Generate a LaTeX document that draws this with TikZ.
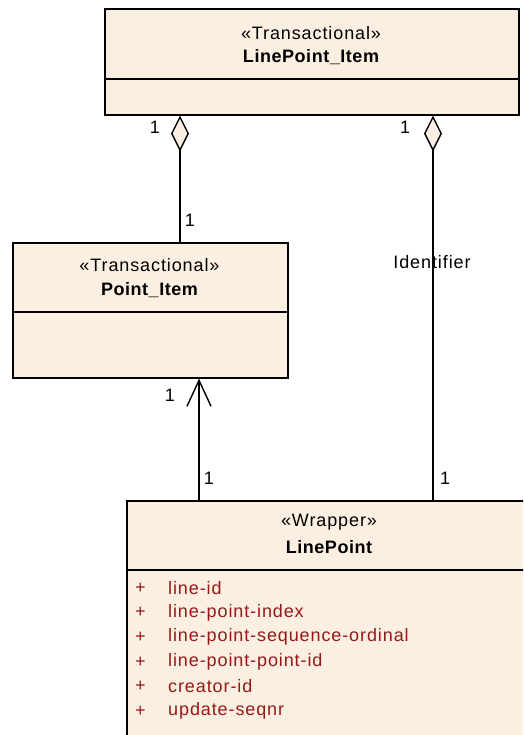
\documentclass[tikz,border=0pt]{standalone}
\usepackage{fontspec}
\setmainfont{Liberation Sans}[LetterSpace=5]
\usetikzlibrary{arrows.meta,calc}
\definecolor{umlfill}{RGB}{250,239,225}
\definecolor{attr}{RGB}{150,25,25}
\tikzset{
  umlbox/.style={draw=black, line width=1.6pt, fill=umlfill, anchor=north west, inner sep=0pt},
  conn/.style={draw=black, line width=1.4pt},
  agg/.style={conn, {Diamond[length=36pt,width=18pt,fill=umlfill,line width=1.4pt]}-},
  nav/.style={conn, -{Straight Barb[length=26pt,width=24pt,line width=1.4pt]}},
  txt/.style={inner sep=0pt, font=\fontsize{18}{20}\selectfont},
  ttl/.style={inner sep=0pt, font=\fontsize{18}{20}\selectfont\bfseries\addfontfeature{LetterSpace=3}},
  att/.style={inner sep=0pt, anchor=west, text=attr, font=\fontsize{18}{20}\selectfont},
  sep/.style={draw=black, line width=1.6pt}
}
\begin{document}
\begin{tikzpicture}[x=1pt,y=-1pt]
\useasboundingbox (0,0) rectangle (523,735);
% boxes
\node[umlbox, minimum width=414pt, minimum height=106pt] (lpi) at (104,8) {};
\node[umlbox, minimum width=275pt, minimum height=135pt] (pi) at (12,242) {};
\begin{scope}
\clip (0,0) rectangle (523,735);
\node[umlbox, minimum width=406pt, minimum height=260pt] (lp) at (126,500) {};
\draw[sep] ($(lp.north west)+(0,70)$) -- ($(lp.north east)+(0,70)$);
\end{scope}
% separators
\draw[sep] ($(lpi.north west)+(0,71)$) -- ($(lpi.north east)+(0,71)$);
\draw[sep] ($(pi.north west)+(0,70)$) -- ($(pi.north east)+(0,70)$);
% titles
\node[txt] (lpis) at (311,33) {«Transactional»};
\node[ttl] (lpin) at (311,57) {LinePoint\_Item};
\node[txt] (pis) at (149.5,265) {«Transactional»};
\node[ttl] (pin) at (149.5,290) {Point\_Item};
\node[txt] (lps) at (329,522) {«Wrapper»};
\node[ttl] (lpn) at (329,547) {LinePoint};
% attributes
\foreach \t [count=\i from 0] in {line-id,line-point-index,line-point-sequence-ordinal,line-point-point-id,creator-id,update-seqnr}{
  \node[att] (p\i) at (135,{588+24.6*\i}) {+};
  \node[att] (a\i) at (168,{588+24.6*\i}) {\t};
}
% connectors
\draw[agg] ($(lpi.south west)+(76,0)$) -- ($(pi.north west)+(168,0)$);
\draw[agg] ($(lpi.south west)+(329,0)$) -- ($(lp.north west)+(307,0)$);
\draw[nav] ($(lp.north west)+(73,0)$) -- ($(pi.south west)+(187,0)$);
% multiplicities
\node[txt] (m1) at (155,127) {1};
\node[txt] (m2) at (405,127) {1};
\node[txt] (m3) at (190,220) {1};
\node[txt] (m4) at (170,395) {1};
\node[txt] (m5) at (209,478) {1};
\node[txt] (m6) at (445,478) {1};
\node[txt] (idl) at (432,262) {Identifier};
\end{tikzpicture}
\end{document}
